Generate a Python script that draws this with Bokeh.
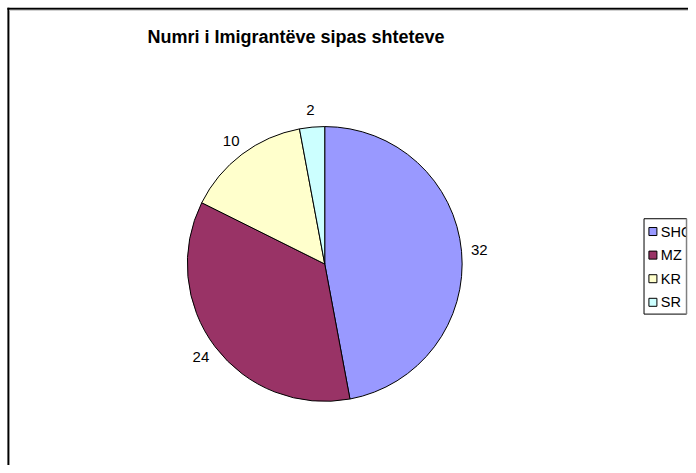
import math
from bokeh.plotting import figure
from bokeh.models import Range1d, ColumnDataSource
from bokeh.core.properties import value
from bokeh.embed import file_html
from bokeh.resources import INLINE

# ---- data ----
title_text = "Numri i Imigrantëve sipas shteteve"
categories = ["SHQ", "MZ", "KR", "SR"]
counts = [32, 24, 10, 2]
colors = ["#9999FF", "#993366", "#FFFFCC", "#CCFFFF"]

FONT = "Liberation Sans"

# the figure shows the whole 696x473 reference area: x = ref x, y = 473 - ref y
W, H = 688, 465
p = figure(width=W, height=H, output_backend="svg", toolbar_location=None,
           x_range=Range1d(0, 696), y_range=Range1d(0, 473),
           x_axis_type=None, y_axis_type=None, min_border=0)
p.grid.visible = False
p.outline_line_color = None
p.background_fill_color = "white"
p.border_fill_color = "white"

def sy(ref_y):
    return 473 - ref_y

# pie
cx, cy, r = 328, sy(268), 139
total = sum(counts)
starts, ends, mids = [], [], []
cum = 0
for c in counts:
    a0 = math.pi / 2 - 2 * math.pi * cum / total
    cum += c
    a1 = math.pi / 2 - 2 * math.pi * cum / total
    starts.append(a0)
    ends.append(a1)
    mids.append((a0 + a1) / 2)

src = ColumnDataSource(dict(start=starts, end=ends, color=colors,
                            cat=categories, val=counts))
p.wedge(x=cx, y=cy, radius=r, start_angle="start", end_angle="end",
        direction="clock", fill_color="color", line_color="black",
        line_width=1, source=src)

# value labels
rl = r + 18
lx = [cx + rl * math.cos(m) for m in mids]
ly = [cy + rl * math.sin(m) for m in mids]
p.text(x=lx, y=ly, text=[str(c) for c in counts], text_font=value(FONT),
       text_font_size="15px", text_align="center", text_baseline="middle",
       text_color="black")

# title
p.text(x=[299], y=[sy(37)], text=[title_text], text_font=value(FONT),
       text_font_size="18px", text_font_style="bold", text_align="center",
       text_baseline="middle", text_color="black")

# chart border (left and top only visible)
p.segment(x0=[8, 7, 9], y0=[sy(7.5), sy(8.5), sy(10)],
          x1=[8, 700, 700], y1=[-5, sy(8.5), sy(10)],
          line_color=["black", "black", "#c8c8c8"], line_width=[2, 2, 1])

# legend
lg_left, lg_right, lg_top, lg_bot = 651, 694, sy(222), sy(319)
p.quad(left=[lg_left], right=[lg_right], top=[lg_top], bottom=[lg_bot],
       fill_color="white", line_color="black", line_width=1)
ey = [sy(235 + 24 * i) for i in range(len(categories))]
p.scatter(x=[660] * len(categories), y=ey, marker="square", size=8,
          fill_color=colors, line_color="black", line_width=1)
p.text(x=[668] * len(categories), y=ey, text=categories, text_font=value(FONT),
       text_font_size="14.5px", text_align="left", text_baseline="middle",
       text_color="black")
# mask overflow beyond the legend's right edge and redraw the edge
p.quad(left=[lg_right], right=[705], top=[lg_top - 1], bottom=[lg_bot + 1],
       fill_color="white", line_color=None)
p.segment(x0=[lg_right], y0=[lg_top], x1=[lg_right], y1=[lg_bot],
          line_color="#808080", line_width=1.5)

open("out.html", "w").write(file_html(p, INLINE))
